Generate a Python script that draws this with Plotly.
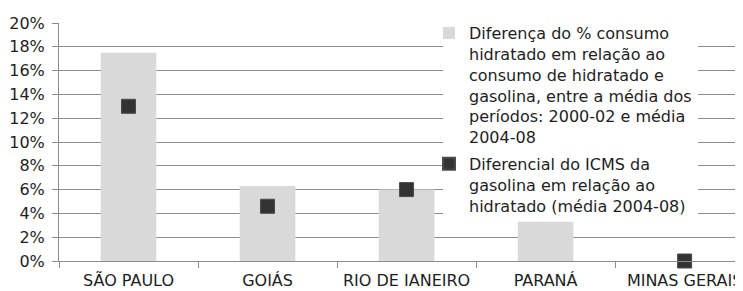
import plotly.graph_objects as go

categories = ["SÃO PAULO", "GOIÁS", "RIO DE IANEIRO", "PARANÁ", "MINAS GERAIS"]
diff_consumo = [0.175, 0.063, 0.060, 0.033, 0.0]
diff_icms = [0.130, 0.046, 0.060, None, 0.0]
y_ticks = [0, 0.02, 0.04, 0.06, 0.08, 0.10, 0.12, 0.14, 0.16, 0.18, 0.20]

name_bar = ("Diferença do % consumo<br>hidratado em relação ao<br>consumo de hidratado e<br>"
            "gasolina, entre a média dos<br>períodos: 2000-02 e média<br>2004-08")
name_pt = "Diferencial do ICMS da<br>gasolina em relação ao<br>hidratado (média 2004-08)"

FONT = "DejaVu Sans"
TXT = "#1e1e1e"
GRID = "#8c8c8c"

# page body has an 8px margin: figure drawn 8px right/down inside the window
W, H = 735, 283
L, T, B = 51, 15, 30
PW, PH = W - L, H - T - B


def px_x(wx):
    return (wx - 8 - L) / PW


def px_y(wy):
    return (H - B - (wy - 8)) / PH


fig = go.Figure()
fig.add_trace(go.Bar(
    x=categories, y=diff_consumo, name=name_bar, legendgroup="a",
    marker=dict(color="#d9d9d9", line=dict(width=0)), width=0.4,
))
fig.add_trace(go.Scatter(
    x=categories, y=diff_icms, name=name_pt, mode="markers", legendgroup="b",
    marker=dict(symbol="square", size=14, color="#333333", line=dict(width=1, color="#4a4a4a")),
    cliponaxis=False,
))

fig.update_layout(
    width=W, height=H,
    margin=dict(l=L, r=0, t=T, b=B, pad=0, autoexpand=False),
    plot_bgcolor="white", paper_bgcolor="white",
    font=dict(family=FONT, size=16, color=TXT),
    showlegend=True,
    legend=dict(
        x=px_x(429), xanchor="left", y=px_y(16), yanchor="top",
        bgcolor="rgba(0,0,0,0)", borderwidth=0, valign="top",
        font=dict(family=FONT, size=16, color=TXT), tracegroupgap=3,
        maxheight=400, itemsizing="constant",
    ),
    shapes=[dict(type="rect", xref="paper", yref="paper",
                 x0=px_x(443), x1=px_x(698),
                 y0=px_y(216), y1=px_y(12),
                 fillcolor="white", line=dict(width=0), layer="above")],
)
fig.update_xaxes(
    type="category", range=[-0.5, 4.42], automargin=False,
    showline=True, linecolor=GRID, linewidth=1,
    ticks="outside", tickson="boundaries", ticklen=6, tickcolor=GRID,
    showgrid=False, ticklabelstandoff=5,
    tickfont=dict(family=FONT, size=16, color=TXT),
)
fig.update_yaxes(
    range=[0, 0.2], tickvals=y_ticks, tickformat=".0%", automargin=False,
    showgrid=True, gridcolor=GRID, gridwidth=1,
    showline=True, linecolor=GRID, linewidth=1,
    ticks="outside", ticklen=6, tickcolor=GRID,
    zeroline=False, ticklabelstandoff=4,
    tickfont=dict(family=FONT, size=16, color=TXT),
)

fig.write_html("out.html")
